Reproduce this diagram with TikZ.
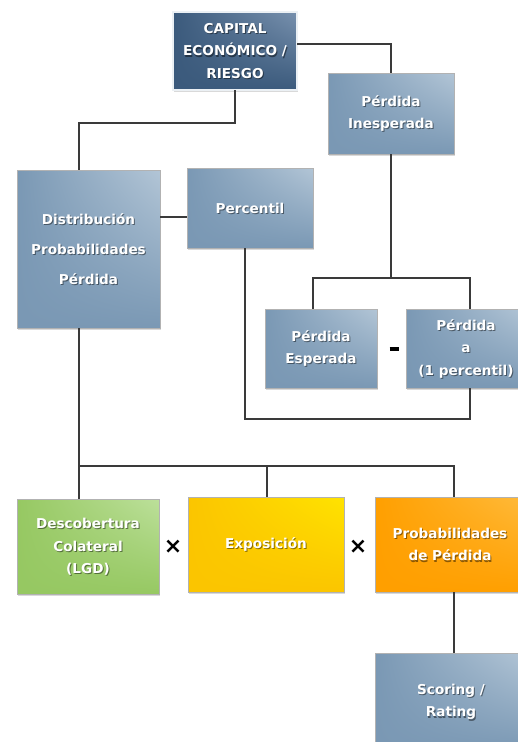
\documentclass[tikz,border=0pt]{standalone}
\usepackage{fontspec}
\setmainfont{DejaVu Sans}
\usepackage{tikz}
\usetikzlibrary{calc,shadows,shadings}
\definecolor{azul}{HTML}{7A98B4}
\definecolor{azulclaro}{HTML}{B2C5D6}
\definecolor{azulosc}{HTML}{3B5A7C}
\definecolor{azuloscclaro}{HTML}{7891AE}
\definecolor{verde}{HTML}{96C862}
\definecolor{verdeclaro}{HTML}{BCE09A}
\definecolor{amarillo}{HTML}{FBC500}
\definecolor{amarilloclaro}{HTML}{FFE300}
\definecolor{naranja}{HTML}{FF9F00}
\definecolor{naranjaclaro}{HTML}{FFBA3A}
\definecolor{linea}{HTML}{3A3A3A}
\tikzset{
	box/.style 2 args={
			draw=black!30, thin, text=white, align=center, inner sep=0pt,
			font=\bfseries\fontsize{13.6}{22.5}\selectfont,
			upper left=#1, lower left=#1, lower right=#1, upper right=#2,
			drop shadow={shadow xshift=1pt, shadow yshift=-1.5pt, opacity=0.3}
		},
	txt/.style={
			node contents={#1},
			path picture={
					\node[align=center, text=black, opacity=0.45]
					at ([xshift=1pt,yshift=-1.2pt]path picture bounding box.center) {#1};
				}
		},
	link/.style={draw=linea, line width=2.4pt, line join=miter},
	op/.style={text=black, font=\bfseries\fontsize{22}{22}\selectfont, inner sep=0pt}
}

\begin{document}
\begin{tikzpicture}[x=1pt,y=-1pt]
	\useasboundingbox (0,0) rectangle (517,742);
	% top
	\node (cap) at (235,51) [box={azulosc}{azuloscclaro}, draw=black!45, double=white!85!azul, double distance=1.4pt,
		minimum width=124pt, minimum height=78pt, txt={CAPITAL\\ECONÓMICO /\\RIESGO}];
	\node (ines) at (391,113.5) [box={azul}{azulclaro}, minimum width=126pt, minimum height=81pt, txt={Pérdida\\Inesperada}];
	\node (dist) at (88.5,249) [box={azul}{azulclaro}, minimum width=143pt, minimum height=158pt,
		font=\bfseries\fontsize{13.6}{30}\selectfont, txt={Distribución\\Probabilidades\\Pérdida}];
	\node (perc) at (250,208) [box={azul}{azulclaro}, minimum width=126pt, minimum height=80pt, txt={Percentil}];
	\node (esp) at (321,348.5) [box={azul}{azulclaro}, minimum width=112pt, minimum height=79pt, txt={Pérdida\\Esperada}];
	\node (pa) at (466,348.5) [box={azul}{azulclaro}, minimum width=120pt, minimum height=79pt, txt={Pérdida\\a\\(1 percentil)}];
	\node[op] (menos) at (394,349) {\rule{9pt}{3.5pt}};
	% bottom
	\node (lgd) at (88,547) [box={verde}{verdeclaro}, minimum width=142pt, minimum height=95pt, txt={Descobertura\\Colateral\\(LGD)}];
	\node (expo) at (266,544.5) [box={amarillo}{amarilloclaro}, minimum width=156pt, minimum height=95pt, txt={Exposición}];
	\node (pd) at (450,544.5) [box={naranja}{naranjaclaro}, minimum width=150pt, minimum height=95pt, txt={Probabilidades\\de Pérdida}];
	\node (scor) at (451,702) [box={azul}{azulclaro}, minimum width=152pt, minimum height=98pt, txt={Scoring /\\Rating}];
	\node[op] (por1) at (173,547) {×};
	\node[op] (por2) at (358,547) {×};
	% bends
	\coordinate (j1) at (79,123);
	\coordinate (j2) at (245,419);
	\coordinate (j3) at (470,419);
	\coordinate (j4) at (391,278);
	\coordinate (j5) at (313,278);
	\coordinate (j6) at (470,278);
	\coordinate (j7) at (79,466);
	\coordinate (j8) at (267,466);
	\coordinate (j9) at (454,466);
	% connectors
	\draw[link] ([yshift=7pt]cap.east) -| (ines.north);
	\draw[link] (cap.south) |- (j1) -- (j1 |- dist.north);
	\draw[link] ([yshift=-9pt]perc.west) -- ([yshift=-9pt]perc.west -| dist.east);
	\draw[link] (j2 |- perc.south) -- (j2) -- (j3) -- (j3 |- pa.south);
	\draw[link] (ines.south) -- (j4);
	\draw[link] (j5 |- esp.north) -- (j5) -- (j6) -- (j6 |- pa.north);
	\draw[link] (j7 |- dist.south) -- (j7 |- lgd.north);
	\draw[link] (j7) -- (j9) -- (j9 |- pd.north);
	\draw[link] (j8) -- (j8 |- expo.north);
	\draw[link] (j9 |- pd.south) -- (j9 |- scor.north);
\end{tikzpicture}
\end{document}
